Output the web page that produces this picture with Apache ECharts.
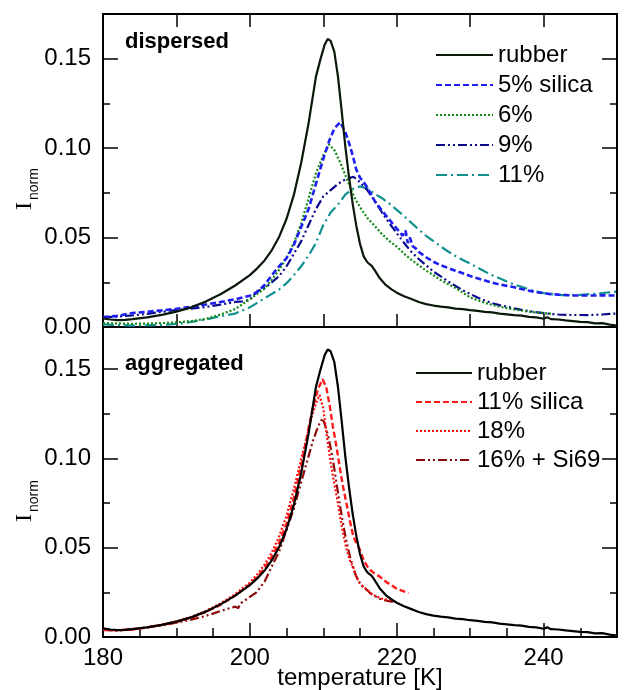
<!DOCTYPE html>
<html>
<head>
<meta charset="utf-8">
<script src="https://cdn.jsdelivr.net/npm/echarts@6/dist/echarts.min.js"></script>
<style>html,body{margin:0;padding:0;background:#fff;}#c{width:624px;height:690px;}</style>
</head>
<body>
<div id="c"></div>
<script>
// ---------- data (temperature in K, normalized intensity) ----------
const rubberT = [180,181,182,183,184,186,188,190,192,194,196,198,200,201,202,203,204,205,206,207,208,209,209.6,210.2,210.6,211,211.5,212,212.5,213,213.5,214,214.5,215,215.5,216,216.6,217,217.7,218.5,219.3,220,221,222,223,224,225,226,227,228,229,230,231,232,233,234,235,236,237,238,239,240,240.5,241,242,243,244,245,246,247,248,249,250];
const rubberV = [0.0048,0.0042,0.0038,0.0040,0.0044,0.0054,0.0068,0.0086,0.0110,0.0142,0.0183,0.0232,0.0290,0.0328,0.0372,0.0430,0.0505,0.0605,0.0740,0.0920,0.1140,0.1400,0.1495,0.1580,0.1610,0.1600,0.1540,0.1400,0.1210,0.1010,0.0840,0.0690,0.0565,0.0465,0.0395,0.0362,0.0342,0.0318,0.0272,0.0235,0.0210,0.0192,0.0172,0.0156,0.0140,0.0128,0.0120,0.0114,0.0110,0.0103,0.0100,0.0094,0.0090,0.0085,0.0082,0.0075,0.0071,0.0066,0.0064,0.0057,0.0054,0.0046,0.0054,0.0044,0.0042,0.0037,0.0033,0.0029,0.0027,0.0020,0.0022,0.0013,0.0008];

const silica5T = [180,182,184,186,188,190,192,194,196,198,200,201,202,203,204,205,206,207,208,209,210,210.8,211.5,212.3,213,213.5,214,214.5,215,215.5,216,217,218,219,220,220.8,221.2,221.5,221.8,222.2,222.6,223,224,225,226,227,228,229,230,231,232,233,234,235,236,237,238,239,240,241,242,243,244,245,246,247,248,249,250];
const silica5V = [0.0055,0.0062,0.0078,0.0085,0.0093,0.0102,0.0113,0.0126,0.0140,0.0155,0.0175,0.0195,0.0235,0.0290,0.0340,0.0385,0.0460,0.0560,0.0660,0.0800,0.0940,0.1040,0.1110,0.1145,0.1090,0.1030,0.0960,0.0880,0.0835,0.0810,0.0780,0.0705,0.0650,0.0600,0.0550,0.0510,0.0540,0.0470,0.0500,0.0450,0.0440,0.0420,0.0390,0.0365,0.0345,0.0330,0.0315,0.0300,0.0285,0.0272,0.0260,0.0248,0.0238,0.0230,0.0222,0.0212,0.0203,0.0195,0.0189,0.0184,0.0181,0.0179,0.0177,0.0176,0.0176,0.0176,0.0177,0.0176,0.0176];

const p6T = [180,182,184,186,188,190,192,194,196,198,200,201,202,203,204,205,206,207,208,209,210,210.8,211.5,212.3,213,213.6,214.3,215,216,217,218,219,220,221,222,223,224,225,226,227,228,229,230,231,232,234,236,238,240,241];
const p6V = [0.0022,0.0020,0.0018,0.0019,0.0022,0.0026,0.0033,0.0045,0.0070,0.0100,0.0155,0.0185,0.0215,0.0265,0.0320,0.0390,0.0470,0.0580,0.0720,0.0860,0.0960,0.1020,0.0990,0.0920,0.0850,0.0786,0.0720,0.0670,0.0610,0.0565,0.0520,0.0480,0.0450,0.0410,0.0375,0.0345,0.0315,0.0290,0.0262,0.0240,0.0218,0.0192,0.0165,0.0150,0.0135,0.0113,0.0098,0.0086,0.0077,0.0075];

const p9T = [180,182,184,186,188,190,192,194,196,198,199,200,201,201.6,202.3,203,204,205,206,207,208,209,210,211,212,213,214.1,215,216,217,218,219,220,221,222,223,224,225,226,227,228,229,230,231,232,233,234,235,236,237,238,239,240,241,242,243,244,245,246,247,248,249,250];
const p9V = [0.0054,0.0058,0.0065,0.0073,0.0085,0.0095,0.0103,0.0112,0.0125,0.0140,0.0143,0.0152,0.0200,0.0210,0.0226,0.0250,0.0285,0.0340,0.0410,0.0480,0.0570,0.0660,0.0730,0.0765,0.0800,0.0825,0.0840,0.0810,0.0765,0.0705,0.0640,0.0580,0.0525,0.0470,0.0420,0.0380,0.0345,0.0310,0.0283,0.0255,0.0230,0.0205,0.0185,0.0165,0.0148,0.0133,0.0122,0.0114,0.0104,0.0096,0.0089,0.0083,0.0078,0.0073,0.0070,0.0068,0.0067,0.0067,0.0066,0.0068,0.0070,0.0073,0.0076];

const p11T = [180,182,184,186,188,190,192,194,196,198,200,201,202,203,204,205,206,207,208,209,210,211,212,213,214,215,216,217,218,219,220,221,222,223,224,225,226,227,228,229,230,231,232,233,234,235,236,237,238,239,240,241,242,243,244,245,246,247,248,249,250];
const p11V = [0.0015,0.0010,0.0008,0.0009,0.0011,0.0017,0.0028,0.0042,0.0060,0.0075,0.0110,0.0135,0.0160,0.0185,0.0210,0.0245,0.0290,0.0340,0.0400,0.0470,0.0570,0.0640,0.0685,0.0740,0.0772,0.0786,0.0775,0.0745,0.0720,0.0690,0.0655,0.0620,0.0582,0.0545,0.0510,0.0480,0.0450,0.0422,0.0397,0.0375,0.0355,0.0332,0.0310,0.0290,0.0272,0.0254,0.0238,0.0225,0.0210,0.0198,0.0190,0.0184,0.0179,0.0178,0.0178,0.0180,0.0183,0.0186,0.0190,0.0194,0.0198];

const a11T = [180,182,184,186,188,190,192,194,196,198,200,201,202,203,204,205,206,207,208,208.6,209.3,209.9,210.4,210.9,211.3,211.8,212.2,212.7,213.2,213.6,214.1,214.6,215,215.5,216,216.4,217,217.7,218.5,219.3,220,220.8,221.6];
const a11V = [0.0040,0.0038,0.0042,0.0053,0.0067,0.0084,0.0108,0.0140,0.0180,0.0232,0.0295,0.0335,0.0385,0.0450,0.0530,0.0635,0.0780,0.0960,0.1170,0.1290,0.1390,0.1443,0.1400,0.1290,0.1180,0.1066,0.0960,0.0840,0.0740,0.0655,0.0560,0.0520,0.0487,0.0430,0.0395,0.0375,0.0355,0.0338,0.0310,0.0290,0.0270,0.0258,0.0245];

const a18T = [180,182,184,186,188,190,192,194,196,198,200,201,202,203,204,205,206,207,207.7,208.4,209,209.5,210,210.5,211,211.4,211.9,212.3,212.7,213.2,213.7,214.1,214.5,215,215.5,216,216.6,217.3,218.2,219.1,219.6];
const a18V = [0.0040,0.0038,0.0043,0.0055,0.0070,0.0088,0.0113,0.0146,0.0188,0.0240,0.0305,0.0350,0.0405,0.0475,0.0565,0.0680,0.0830,0.1000,0.1110,0.1230,0.1310,0.1355,0.1280,0.1120,0.0980,0.0880,0.0770,0.0670,0.0580,0.0487,0.0420,0.0390,0.0338,0.0300,0.0280,0.0263,0.0240,0.0226,0.0212,0.0207,0.0200];

const a16T = [180,182,184,186,188,190,192,194,196,197,198,198.4,198.8,199.5,200,200.9,202,203.2,204,205,206,206.8,207.7,208.6,209.3,209.9,210.3,210.7,211,211.4,211.8,212.3,212.8,213.2,213.7,214.1,214.5,215,215.5,216,216.4,217,217.6,218.2,219,219.5];
const a16V = [0.0040,0.0036,0.0044,0.0054,0.0065,0.0080,0.0097,0.0118,0.0145,0.0158,0.0170,0.0162,0.0190,0.0210,0.0225,0.0250,0.0310,0.0413,0.0480,0.0600,0.0720,0.0840,0.0970,0.1100,0.1180,0.1225,0.1180,0.1120,0.1060,0.0970,0.0860,0.0730,0.0610,0.0525,0.0440,0.0380,0.0338,0.0300,0.0275,0.0262,0.0245,0.0230,0.0215,0.0207,0.0200,0.0198];

const topLegend = ['rubber','5% silica','6%','9%','11%'];
const bottomLegend = ['rubber','11% silica','18%','16% + Si69'];
const xTicks = {min:180, max:250};
const yTicks = {topMax:0.175, bottomMax:0.1736, major:0.05, minor:0.025};

// ---------- chart ----------
const FONT = '"Liberation Sans", Arial, sans-serif';
const pairs = (t, v) => t.map((x, i) => [x, v[i]]);

function xAx(grid, pos, interval, len, opts) {
  return Object.assign({
    type:'value', gridIndex:grid, position:pos, min:xTicks.min, max:xTicks.max, interval:interval,
    axisLine:{show:true, onZero:false, lineStyle:{color:'#000', width:2}},
    axisTick:{show:true, inside:true, length:len, lineStyle:{color:'#000', width:1.5}},
    axisLabel:{show:false}, splitLine:{show:false}
  }, opts || {});
}
function yAx(grid, pos, max, interval, len, labels, line) {
  return {
    type:'value', gridIndex:grid, position:pos, min:0, max:max, interval:interval,
    axisLine:{show:line, onZero:false, lineStyle:{color:'#000', width:2}},
    axisTick:{show:true, inside:true, length:len, lineStyle:{color:'#000', width:1.5}},
    axisLabel:{show:labels, showMaxLabel:false, margin:12, fontSize:24, fontFamily:FONT, color:'#000',
      formatter:v => v.toFixed(2)},
    splitLine:{show:false}
  };
}

function line(name, t, v, color, type, xi, yi, width) {
  return {
    name:name, type:'line', xAxisIndex:xi, yAxisIndex:yi, data:pairs(t, v),
    symbol:'none', smooth:false, silent:true,
    lineStyle:{color:color, width:width || 2.2, type:type},
    itemStyle:{color:color}, z:3
  };
}

const legendBase = {
  orient:'vertical', padding:0, itemWidth:57, itemHeight:14, selectedMode:false,
  itemStyle:{color:'rgba(0,0,0,0)', borderColor:'rgba(0,0,0,0)', borderWidth:0, opacity:0},
  textStyle:{fontSize:24, fontFamily:FONT, color:'#000'}
};

const chart = echarts.init(document.getElementById('c'), null, {renderer:'canvas'});
chart.setOption({
  animation:false,
  backgroundColor:'#fff',
  grid:[
    {left:103, top:14, width:514, height:313, containLabel:false, outerBoundsMode:'none'},
    {left:103, top:327, width:514, height:310, containLabel:false, outerBoundsMode:'none'}
  ],
  xAxis:[
    xAx(0,'bottom',10,13),
    xAx(0,'top',10,13),
    xAx(1,'bottom',5,9,{axisLine:{show:false, onZero:false}}),
    xAx(1,'bottom',20,14,{
      axisLabel:{show:true, showMaxLabel:false, margin:9, fontSize:24, fontFamily:FONT, color:'#000'}
    })
  ],
  yAxis:[
    yAx(0,'left',yTicks.topMax,yTicks.major,15,true,true),
    yAx(0,'left',yTicks.topMax,yTicks.minor,7,false,false),
    yAx(0,'right',yTicks.topMax,yTicks.major,15,false,true),
    yAx(0,'right',yTicks.topMax,yTicks.minor,7,false,false),
    yAx(1,'left',yTicks.bottomMax,yTicks.major,15,true,true),
    yAx(1,'left',yTicks.bottomMax,yTicks.minor,7,false,false),
    yAx(1,'right',yTicks.bottomMax,yTicks.major,15,false,true),
    yAx(1,'right',yTicks.bottomMax,yTicks.minor,7,false,false)
  ],
  legend:[
    Object.assign({}, legendBase, {data:topLegend, left:435, top:43, itemGap:6}),
    Object.assign({}, legendBase, {data:bottomLegend, left:415, top:361, itemGap:5, itemWidth:56})
  ],
  graphic:[
    {type:'text', x:125, y:42, style:{text:'dispersed', font:'bold 22px ' + FONT, fill:'#000', verticalAlign:'middle'}},
    {type:'text', x:125, y:364, style:{text:'aggregated', font:'bold 22px ' + FONT, fill:'#000', verticalAlign:'middle'}},
    {type:'text', x:360, y:678, style:{text:'temperature [K]', font:'24px ' + FONT, fill:'#000', align:'center', verticalAlign:'middle'}},
    {type:'text', x:25, y:206, rotation:Math.PI/2, style:{text:'I', font:'24px "Liberation Serif", serif', fill:'#000', align:'center', verticalAlign:'middle'}},
    {type:'text', x:34, y:184, rotation:Math.PI/2, style:{text:'norm', font:'14px ' + FONT, fill:'#000', align:'center', verticalAlign:'middle'}},
    {type:'text', x:25, y:518, rotation:Math.PI/2, style:{text:'I', font:'24px "Liberation Serif", serif', fill:'#000', align:'center', verticalAlign:'middle'}},
    {type:'text', x:34, y:496, rotation:Math.PI/2, style:{text:'norm', font:'14px ' + FONT, fill:'#000', align:'center', verticalAlign:'middle'}}
  ],
  series:[
    line('11%', p11T, p11V, '#119090', [11,4,2,4], 0, 0),
    line('9%', p9T, p9V, '#0a0a8c', [9,3,2,3,2,3], 0, 0),
    line('6%', p6T, p6V, '#108a10', [2,2], 0, 0),
    line('5% silica', silica5T, silica5V, '#1e1ef0', [6,3], 0, 0, 2.6),
    line('rubber', rubberT, rubberV, '#0a180a', 'solid', 0, 0),
    line('16% + Si69', a16T, a16V, '#8b0a0a', [9,3,2,3,2,3], 3, 4),
    line('18%', a18T, a18V, '#ff1010', [2,2], 3, 4),
    line('11% silica', a11T, a11V, '#ff1a1a', [6,3], 3, 4, 2.4),
    line('rubber', rubberT, rubberV, '#000000', 'solid', 3, 4)
  ]
});
</script>
</body>
</html>
